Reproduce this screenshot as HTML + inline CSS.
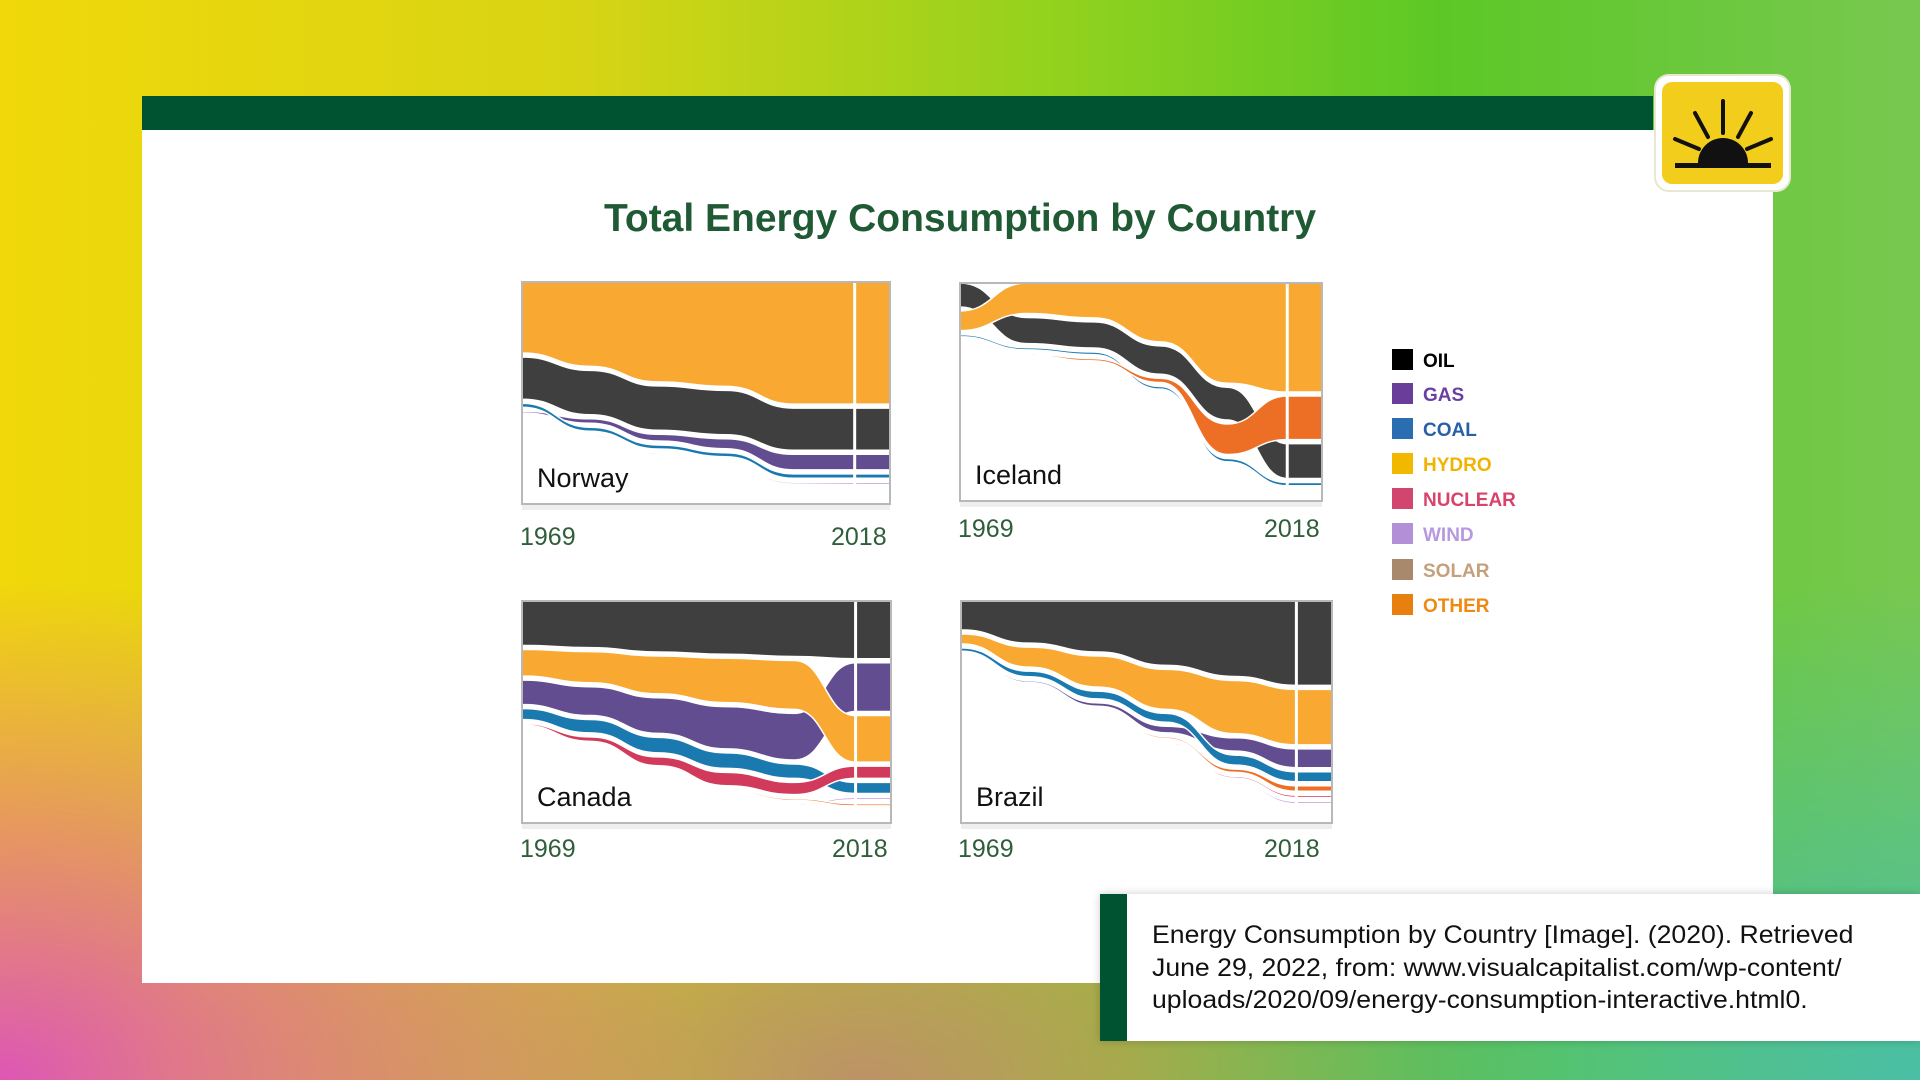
<!DOCTYPE html>
<html><head><meta charset="utf-8"><style>
html,body{margin:0;padding:0;width:1920px;height:1080px;overflow:hidden;font-family:"Liberation Sans",sans-serif}
#bg{position:absolute;left:0;top:0;width:1920px;height:1080px;
background:
radial-gradient(ellipse 700px 500px at 0% 100%, rgba(220,80,190,0.95), rgba(220,80,190,0) 100%),
radial-gradient(ellipse 800px 500px at 100% 100%, rgba(70,190,170,0.95), rgba(70,190,170,0) 100%),
radial-gradient(ellipse 700px 400px at 45% 100%, rgba(190,140,110,0.9), rgba(190,140,110,0) 100%),
linear-gradient(90deg,#f0d80a 0%,#d8d414 30%,#92d21e 55%,#5cc826 75%,#78c850 100%);}
#bar{position:absolute;left:142px;top:96px;width:1511px;height:34px;background:#005330}
#card{position:absolute;left:142px;top:130px;width:1631px;height:853px;background:#fff}
#title{position:absolute;left:0;width:1920px;top:197px;text-align:center;font-weight:bold;font-size:39px;color:#1f5a34}
.yr{position:absolute;font-size:25px;color:#2f5e3a}
.leg{position:absolute;left:1392px;font-weight:bold;font-size:19px}
.leg span{display:inline-block;width:21px;height:21px;vertical-align:-3px;margin-right:10px}
#cite{position:absolute;left:1100px;top:894px;width:820px;height:147px;background:#fff;box-shadow:0 0 8px rgba(0,0,0,0.2)}
#cite .stripe{position:absolute;left:0;top:0;width:27px;height:147px;background:#005330}
#cite .txt{position:absolute;left:52px;top:25px;font-size:25px;line-height:32.5px;color:#111;white-space:nowrap;transform-origin:0 0;transform:scaleX(1.065)}
</style></head><body>
<div id="bg"></div>
<div id="bar"></div>
<div id="card"></div>
<svg style="position:absolute;left:1653px;top:73px" width="139" height="120">
<rect x="2" y="2" width="135" height="116" rx="14" fill="#fff" stroke="#e8e8d0" stroke-width="2"/>
<rect x="9" y="9" width="121" height="102" rx="10" fill="#f3cd1c"/>
<path d="M45 90 A25 25 0 0 1 95 90 Z" fill="#111"/>
<rect x="22" y="90" width="96" height="5" fill="#111"/>
<g stroke="#111" stroke-width="4" stroke-linecap="round">
<line x1="70" y1="60" x2="70" y2="28"/><line x1="55" y1="64" x2="42" y2="40"/><line x1="85" y1="64" x2="98" y2="40"/>
<line x1="46" y1="76" x2="22" y2="66"/><line x1="94" y1="76" x2="118" y2="66"/></g>
</svg>
<div id="title">Total Energy Consumption by Country</div>
<svg id="charts" style="position:absolute;left:0;top:0" width="1920" height="1080"></svg>

<div class="yr" style="left:520px;top:523px">1969</div>
<div class="yr" style="left:831px;top:523px">2018</div>
<div class="yr" style="left:958px;top:515px">1969</div>
<div class="yr" style="left:1264px;top:515px">2018</div>
<div class="yr" style="left:520px;top:835px">1969</div>
<div class="yr" style="left:832px;top:835px">2018</div>
<div class="yr" style="left:958px;top:835px">1969</div>
<div class="yr" style="left:1264px;top:835px">2018</div>

<div class="leg" style="top:349px;color:#000"><span style="background:#000"></span>OIL</div>
<div class="leg" style="top:383px;color:#6b3fa0"><span style="background:#6a3d9a"></span>GAS</div>
<div class="leg" style="top:418px;color:#2860a8"><span style="background:#2a6db0"></span>COAL</div>
<div class="leg" style="top:453px;color:#f0b400"><span style="background:#f2b800"></span>HYDRO</div>
<div class="leg" style="top:488px;color:#d9436b"><span style="background:#d1456e"></span>NUCLEAR</div>
<div class="leg" style="top:523px;color:#b898e0"><span style="background:#b38fd8"></span>WIND</div>
<div class="leg" style="top:559px;color:#c4a07c"><span style="background:#a8896b"></span>SOLAR</div>
<div class="leg" style="top:594px;color:#ef8a10"><span style="background:#e8800f"></span>OTHER</div>

<div id="cite"><div class="stripe"></div>
<div class="txt">Energy Consumption by Country [Image]. (2020). Retrieved<br>June 29, 2022, from: www.visualcapitalist.com/wp-content/<br>uploads/2020/09/energy-consumption-interactive.html0.</div></div>

<script>
const years = [1969,1979,1989,1999,2009,2018];
const sources = ["oil","gas","coal","hydro","nuclear","wind","solar","other"];
const norwayOil = [19,20,20,20,19,19];
const norwayGas = [0.8,2,3,4.5,7,7];
const norwayCoal = [1.8,1.8,1.8,1.8,2,2];
const norwayHydro = [32,38,45,47,55,55];
const norwayNuclear = [0,0,0,0,0,0];
const norwayWind = [0,0,0,0.3,0.8,1];
const norwaySolar = [0,0,0,0,0,0];
const norwayOther = [0.4,0.4,0.5,0.5,0.6,0.6];
const icelandOil = [11,12,12,13,15,16];
const icelandGas = [0,0,0,0,0,0];
const icelandCoal = [1,1,1.2,1.2,1.5,1.5];
const icelandHydro = [9,14,16,27,46,50];
const icelandNuclear = [0,0,0,0,0,0];
const icelandWind = [0,0,0,0,0,0];
const icelandSolar = [0,0,0,0,0,0];
const icelandOther = [0.5,0.5,1,2,14,20];
const canadaOil = [20,21,23,24,25,26];
const canadaGas = [11,13,16,19,21,22];
const canadaCoal = [5,6,7,7,6.5,5];
const canadaHydro = [12,14,17,20,22,21];
const canadaNuclear = [0.5,2,4,6,5.5,5.5];
const canadaWind = [0,0,0,0,0.5,1];
const canadaSolar = [0,0,0,0,0,0.4];
const canadaOther = [0.4,0.5,0.6,0.6,0.8,1];
const brazilOil = [13,19,23,29,34,38];
const brazilGas = [0.5,0.8,1.5,3,6,8.5];
const brazilCoal = [1.5,2.5,3.5,4,4.5,4.5];
const brazilHydro = [4.5,9,14,18,24,25];
const brazilNuclear = [0,0,0.3,0.5,0.8,1];
const brazilWind = [0,0,0,0,0.6,1];
const brazilSolar = [0,0,0,0,0,0.3];
const brazilOther = [0.5,0.5,0.6,0.8,1.5,2.5];

const colors = {oil:"#3f3f3f",gas:"#614d8f",coal:"#1a7ab0",hydro:"#f9a832",nuclear:"#d23a5c",wind:"#c49ad6",solar:"#e2b89a",other:"#ec6f25"};
const NS="http://www.w3.org/2000/svg";
const svg=document.getElementById('charts');

function drawPanel(name,label,x0,y0,W,H,series){
  const g=document.createElementNS(NS,'g');
  
  
  svg.appendChild(g);
  const shadow=document.createElementNS(NS,'rect');
  shadow.setAttribute('x',x0);shadow.setAttribute('y',y0+H);shadow.setAttribute('width',W);shadow.setAttribute('height',6);shadow.setAttribute('fill','#eeeeee');
  g.appendChild(shadow);
  const bgr=document.createElementNS(NS,'rect');
  bgr.setAttribute('x',x0);bgr.setAttribute('y',y0);bgr.setAttribute('width',W);bgr.setAttribute('height',H);bgr.setAttribute('fill','#fff');
  g.appendChild(bgr);
  const xs=y=>x0+(y-years[0])/(years[years.length-1]-years[0])*W*0.904;
  const sc=v=>v*H/100;
  const gap=4;
  const tops={},bots={};
  sources.forEach(s=>{tops[s]=[];bots[s]=[];});
  years.forEach((yr,i)=>{
    const order=sources.filter(s=>series[s][i]>0).sort((a,b)=>series[b][i]-series[a][i]);
    let cur=y0;
    order.forEach(s=>{const t=Math.max(sc(series[s][i]),1.5);tops[s][i]=cur;bots[s][i]=cur+t;cur+=t+gap;});
    sources.forEach(s=>{if(series[s][i]<=0){tops[s][i]=null;}});
  });
  sources.forEach(s=>{
    const idx=years.map((_,i)=>i).filter(i=>tops[s][i]!==null);
    if(!idx.length)return;
    const pts=idx.map(i=>[xs(years[i]),tops[s][i],bots[s][i]]);
    let d='';
    const first=idx[0];
    if(first>0){const px=xs(years[first-1]);pts.unshift([px,pts[0][2],pts[0][2]]);}
    else pts.unshift([x0,pts[0][1],pts[0][2]]);
    pts.push([x0+W,pts[pts.length-1][1],pts[pts.length-1][2]]);
    d='M'+pts[0][0]+','+pts[0][1];
    for(let k=1;k<pts.length;k++){const mx=(pts[k-1][0]+pts[k][0])/2;d+=' C'+mx+','+pts[k-1][1]+' '+mx+','+pts[k][1]+' '+pts[k][0]+','+pts[k][1];}
    d+=' L'+pts[pts.length-1][0]+','+pts[pts.length-1][2];
    for(let k=pts.length-2;k>=0;k--){const mx=(pts[k+1][0]+pts[k][0])/2;d+=' C'+mx+','+pts[k+1][2]+' '+mx+','+pts[k][2]+' '+pts[k][0]+','+pts[k][2];}
    d+=' Z';
    const p=document.createElementNS(NS,'path');
    p.setAttribute('d',d);p.setAttribute('fill',colors[s]);p.setAttribute('stroke','#fff');p.setAttribute('stroke-width','1.5');
    
    
    g.appendChild(p);
  });
  const vl=document.createElementNS(NS,'rect');
  vl.setAttribute('x',xs(years[years.length-1])-1.5);vl.setAttribute('y',y0);vl.setAttribute('width',3);vl.setAttribute('height',H);vl.setAttribute('fill','#fff');
  
  
  g.appendChild(vl);
  const br=document.createElementNS(NS,'rect');
  br.setAttribute('x',x0);br.setAttribute('y',y0);br.setAttribute('width',W);br.setAttribute('height',H);br.setAttribute('fill','none');br.setAttribute('stroke','#b8b8b8');br.setAttribute('stroke-width','2');
  g.appendChild(br);
  const t=document.createElementNS(NS,'text');
  t.setAttribute('x',x0+15);t.setAttribute('y',y0+H-17);t.setAttribute('font-size','27');t.setAttribute('fill','#111');t.setAttribute('font-family','Liberation Sans, sans-serif');
  t.textContent=label;
  
  
  g.appendChild(t);
}
drawPanel('norway','Norway',522,282,368,222,{oil:norwayOil,gas:norwayGas,coal:norwayCoal,hydro:norwayHydro,nuclear:norwayNuclear,wind:norwayWind,solar:norwaySolar,other:norwayOther});
drawPanel('iceland','Iceland',960,283,362,218,{oil:icelandOil,gas:icelandGas,coal:icelandCoal,hydro:icelandHydro,nuclear:icelandNuclear,wind:icelandWind,solar:icelandSolar,other:icelandOther});
drawPanel('canada','Canada',522,601,369,222,{oil:canadaOil,gas:canadaGas,coal:canadaCoal,hydro:canadaHydro,nuclear:canadaNuclear,wind:canadaWind,solar:canadaSolar,other:canadaOther});
drawPanel('brazil','Brazil',961,601,371,222,{oil:brazilOil,gas:brazilGas,coal:brazilCoal,hydro:brazilHydro,nuclear:brazilNuclear,wind:brazilWind,solar:brazilSolar,other:brazilOther});
</script>
</body></html>
